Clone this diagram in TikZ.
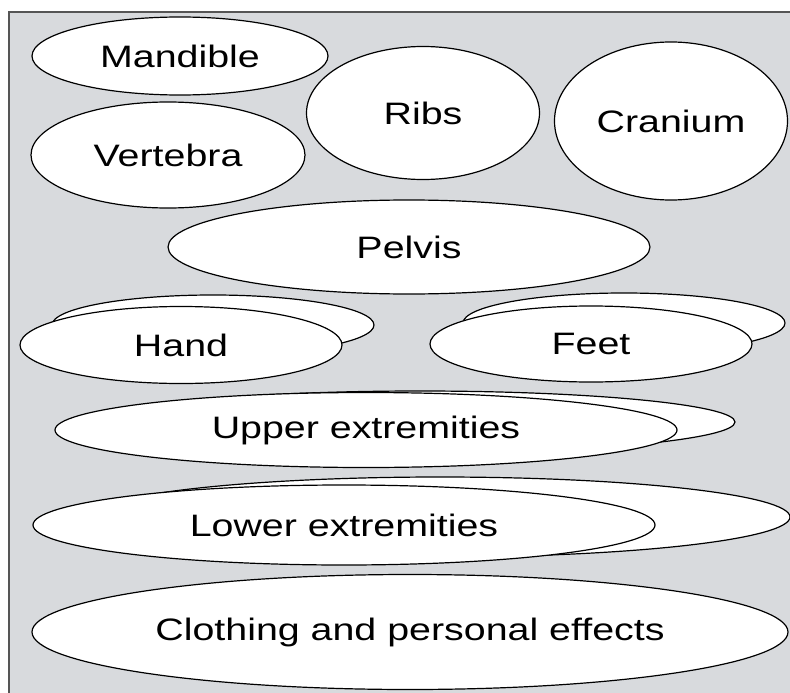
\documentclass[tikz,border=0pt]{standalone}
\usepackage{fontspec}
\setmainfont[FakeStretch=1.27]{Liberation Sans}
\usetikzlibrary{shapes.geometric}
\definecolor{panelgray}{RGB}{216,218,221}
\definecolor{framegray}{RGB}{85,85,85}
\begin{document}
\begin{tikzpicture}[
  x=1pt, y=-1pt,
  part/.style 2 args={draw, ellipse, fill=white, line width=1.2pt, inner sep=0pt,
    minimum width=#1, minimum height=#2, font=\fontsize{31}{36}\selectfont}
]
  \useasboundingbox (0,0) rectangle (790,693);
  \filldraw[fill=panelgray, draw=framegray, line width=1.5pt] (9,12) rectangle (805,710);
  \node[part={296pt}{78pt}] (mandible) at (180,56) {Mandible};
  \node[part={274pt}{106pt}] (vertebra) at (168,155) {Vertebra};
  \node[part={233pt}{133pt}] (ribs) at (423,113) {Ribs};
  \node[part={233pt}{158pt}] (cranium) at (671,121) {Cranium};
  \node[part={482pt}{94pt}] (pelvis) at (409,247) {Pelvis};
  \node[part={322pt}{60pt}] (handback) at (213,325) {};
  \node[part={322pt}{77pt}] (hand) at (181,345) {Hand};
  \node[part={322pt}{60pt}] (feetback) at (624,323) {};
  \node[part={322pt}{76pt}] (feet) at (591,344) {Feet};
  \node[part={630pt}{62pt}] (upperback) at (420,422) {};
  \node[part={622pt}{75pt}] (upper) at (366,430) {Upper extremities};
  \node[part={700pt}{80pt}] (lowerback) at (440,517) {};
  \node[part={622pt}{80pt}] (lower) at (344,525) {Lower extremities};
  \node[part={756pt}{115pt}] (clothing) at (410,632) {Clothing and personal effects};
\end{tikzpicture}
\end{document}
